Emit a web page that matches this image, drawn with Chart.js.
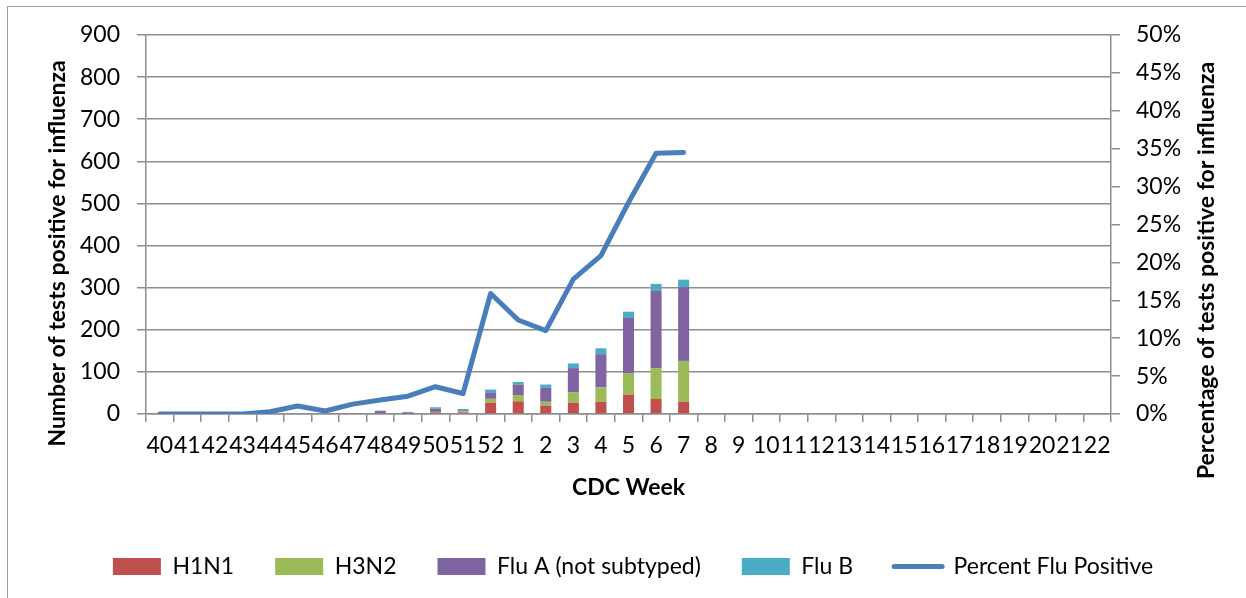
<!DOCTYPE html>
<html>
<head>
<meta charset="utf-8">
<script src="https://cdn.jsdelivr.net/npm/chart.js@4"></script>
<style>
  html,body{margin:0;padding:0;background:#fff;overflow:hidden}
  #wrap{position:relative;width:1246px;height:598px}
  #frame{position:absolute;left:7px;top:6px;width:1400px;height:800px;border:1px solid #a0a0a0;pointer-events:none}
</style>
</head>
<body>
<div id="wrap">
  <canvas id="fluChart" width="1246" height="598"></canvas>
  <div id="frame"></div>
</div>
<script>
// CDC weeks 40..52 then 1..22
const weeks = ['40','41','42','43','44','45','46','47','48','49','50','51','52',
  '1','2','3','4','5','6','7','8','9','10','11','12','13','14','15','16','17','18','19','20','21','22'];

const h1n1 = [0,0,0,0,0,0,0,0,2,1,4,4,27,30,20,27,29,46,36,29];
const h3n2 = [0,0,0,0,0,0,0,0,0,0,1,2,9,15,9,24,34,50,73,97];
const fluA = [0,0,0,0,0,0,0,2,5,3,8,3,14,25,33,58,79,132,183,175];
const fluB = [0,0,0,0,0,1,0,0,1,1,3,3,8,6,8,11,14,15,17,18];
const pctPositive = [0,0,0,0,0.3,1.05,0.4,1.3,1.85,2.35,3.6,2.7,15.9,12.4,11.0,17.8,20.9,27.9,34.4,34.5];

const countTicks = [0,100,200,300,400,500,600,700,800,900];
const pctTicks = [0,5,10,15,20,25,30,35,40,45,50];

const leftTitle = 'Number of tests positive for influenza';
const rightTitle = 'Percentage of tests positive for influenza';
const xTitle = 'CDC Week';

const FONT = 'Lato';
const GRID = '#8e8e8e';

// y titles sit a bit below the plot middle in the original
const axisTitles = {
  id: 'axisTitles',
  afterDraw(chart){
    const {ctx, chartArea:a} = chart;
    const mid = (a.top + a.bottom) / 2;
    ctx.save();
    ctx.font = 'bold 23px ' + FONT;
    ctx.fillStyle = '#000';
    ctx.textAlign = 'center';
    ctx.textBaseline = 'middle';
    ctx.save();
    ctx.translate(a.left - 88, mid + 29);
    ctx.rotate(-Math.PI/2);
    ctx.fillText(leftTitle, 0, 0);
    ctx.restore();
    ctx.translate(a.right + 96, mid + 46);
    ctx.rotate(-Math.PI/2);
    ctx.fillText(rightTitle, 0, 0);
    ctx.restore();
  }
};

function bar(label, data, color){
  return {type:'bar', label, data, backgroundColor:color, borderWidth:0,
    stack:'flu', yAxisID:'y', order:1, barPercentage:0.4, categoryPercentage:1};
}

new Chart(document.getElementById('fluChart'), {
  data: {
    labels: weeks,
    datasets: [
      bar('H1N1', h1n1, '#c0504d'),
      bar('H3N2', h3n2, '#9bbb59'),
      bar('Flu A (not subtyped)', fluA, '#8064a2'),
      bar('Flu B', fluB, '#4bacc6'),
      {type:'line', label:'Percent Flu Positive', data:pctPositive, yAxisID:'y1', order:0,
        borderColor:'#4a7ebb', backgroundColor:'#4a7ebb', borderWidth:5,
        borderCapStyle:'round', borderJoinStyle:'round', pointRadius:0, tension:0}
    ]
  },
  options: {
    responsive:false,
    animation:false,
    layout:{padding:{top:35, left:20, right:0, bottom:10}},
    plugins:{
      tooltip:{enabled:false},
      legend:{
        position:'bottom',
        labels:{
          font:{family:FONT, size:23}, color:'#000',
          usePointStyle:true, pointStyleWidth:48, boxWidth:48, boxHeight:17, padding:41,
          sort:(a,b)=>a.datasetIndex-b.datasetIndex,
          generateLabels(chart){
            const items = Chart.defaults.plugins.legend.labels.generateLabels(chart);
            items.forEach(it=>{
              const ds = chart.data.datasets[it.datasetIndex];
              it.pointStyle = ds.type === 'line' ? 'line' : 'rect';
              if(ds.type === 'line'){ it.lineWidth = 5; it.lineCap = 'round'; it.strokeStyle = ds.borderColor; }
            });
            return items;
          }
        }
      }
    },
    scales:{
      x:{
        stacked:true,
        afterFit(s){ s.height = 100; },
        grid:{display:true, drawOnChartArea:false, drawTicks:true, tickLength:8, color:GRID, lineWidth:1.5, offset:true},
        border:{display:true, color:GRID, width:1.5},
        ticks:{autoSkip:false, maxRotation:0, minRotation:0, padding:10, color:'#000', font:{family:FONT, size:23}},
        title:{display:true, text:xTitle, color:'#000', font:{family:FONT, size:23, weight:'bold'}, padding:{top:0, bottom:13}}
      },
      y:{
        position:'left', stacked:true, min:0, max:900,
        afterFit(s){ s.width = 126; },
        afterBuildTicks(s){ s.ticks = countTicks.map(v=>({value:v})); },
        grid:{color:GRID, lineWidth:1.5, tickLength:9},
        border:{display:true, color:GRID, width:1.5},
        ticks:{padding:17, color:'#000', font:{family:FONT, size:23}}
      },
      y1:{
        position:'right', min:0, max:50,
        afterFit(s){ s.width = 135; },
        afterBuildTicks(s){ s.ticks = pctTicks.map(v=>({value:v})); },
        grid:{drawOnChartArea:false, color:GRID, lineWidth:1.5, tickLength:9},
        border:{display:true, color:GRID, width:1.5},
        ticks:{padding:16, color:'#000', font:{family:FONT, size:23}, callback:v=>v+'%'}
      }
    }
  },
  plugins:[axisTitles]
});
</script>
</body>
</html>
